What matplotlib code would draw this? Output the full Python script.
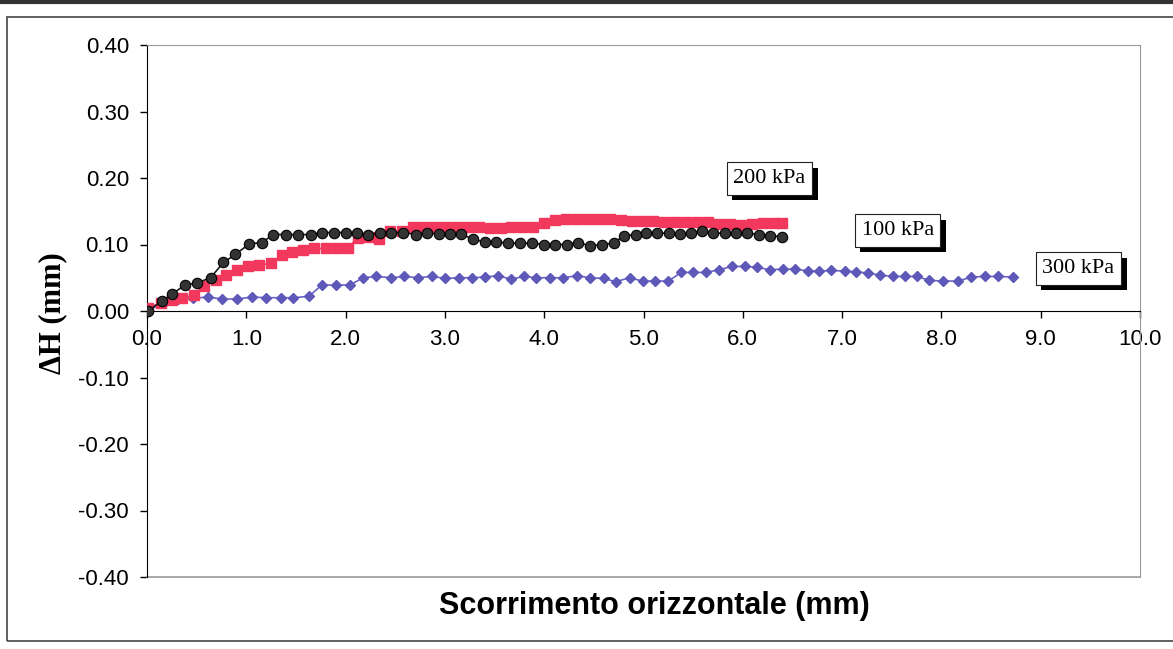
import matplotlib
matplotlib.use("Agg")
import matplotlib.pyplot as plt
import matplotlib.patheffects as pe
from matplotlib.lines import Line2D
from matplotlib.patches import Rectangle

# vertical displacement vs horizontal slip, three normal loads
x_100 = [0.01, 0.15, 0.25, 0.38, 0.50, 0.64, 0.77, 0.89, 1.03, 1.16, 1.27, 1.40, 1.52, 1.65,
         1.76, 1.88, 2.00, 2.11, 2.23, 2.35, 2.46, 2.58, 2.71, 2.82, 2.94, 3.05, 3.16, 3.28,
         3.40, 3.51, 3.64, 3.76, 3.88, 4.00, 4.11, 4.23, 4.34, 4.46, 4.58, 4.70, 4.80, 4.92,
         5.03, 5.14, 5.26, 5.37, 5.48, 5.59, 5.70, 5.82, 5.93, 6.04, 6.16, 6.27, 6.39]
dh_100 = [0.000, 0.015, 0.025, 0.039, 0.042, 0.050, 0.073, 0.085, 0.101, 0.103, 0.115, 0.115,
          0.115, 0.115, 0.118, 0.118, 0.118, 0.117, 0.114, 0.118, 0.118, 0.118, 0.115, 0.117,
          0.116, 0.116, 0.116, 0.108, 0.104, 0.104, 0.102, 0.102, 0.102, 0.100, 0.100, 0.100,
          0.103, 0.098, 0.100, 0.102, 0.113, 0.115, 0.117, 0.117, 0.117, 0.116, 0.117, 0.120,
          0.117, 0.117, 0.118, 0.117, 0.115, 0.113, 0.112]

x_200 = [0.01, 0.14, 0.25, 0.35, 0.47, 0.57, 0.69, 0.80, 0.91, 1.02, 1.13, 1.25, 1.36, 1.46,
         1.57, 1.68, 1.80, 1.91, 2.02, 2.12, 2.24, 2.34, 2.45, 2.57, 2.68, 2.79, 2.90, 3.01,
         3.12, 3.23, 3.34, 3.45, 3.56, 3.67, 3.78, 3.89, 4.00, 4.11, 4.22, 4.33, 4.44, 4.55,
         4.66, 4.77, 4.88, 4.99, 5.10, 5.21, 5.32, 5.43, 5.54, 5.65, 5.76, 5.87, 5.98, 6.09,
         6.20, 6.31, 6.39]
dh_200 = [0.005, 0.012, 0.017, 0.019, 0.024, 0.037, 0.047, 0.054, 0.062, 0.067, 0.069, 0.072,
          0.084, 0.089, 0.091, 0.094, 0.094, 0.094, 0.094, 0.110, 0.111, 0.109, 0.120, 0.120,
          0.127, 0.127, 0.127, 0.126, 0.126, 0.126, 0.126, 0.125, 0.125, 0.126, 0.126, 0.127,
          0.133, 0.137, 0.138, 0.138, 0.139, 0.139, 0.138, 0.137, 0.136, 0.135, 0.135, 0.134,
          0.134, 0.134, 0.134, 0.134, 0.131, 0.131, 0.130, 0.131, 0.133, 0.133, 0.133]

x_300 = [0.00, 0.17, 0.31, 0.46, 0.61, 0.76, 0.91, 1.06, 1.20, 1.35, 1.47, 1.63, 1.76, 1.90,
         2.04, 2.18, 2.31, 2.46, 2.59, 2.73, 2.87, 3.00, 3.14, 3.27, 3.40, 3.53, 3.67, 3.80,
         3.92, 4.06, 4.19, 4.33, 4.46, 4.60, 4.72, 4.86, 4.99, 5.12, 5.25, 5.38, 5.50, 5.63,
         5.76, 5.89, 6.02, 6.14, 6.27, 6.40, 6.53, 6.66, 6.77, 6.89, 7.03, 7.14, 7.26, 7.38,
         7.51, 7.63, 7.75, 7.88, 8.02, 8.17, 8.30, 8.44, 8.57, 8.72]
dh_300 = [0.000, 0.012, 0.018, 0.019, 0.021, 0.018, 0.018, 0.021, 0.020, 0.020, 0.020, 0.022,
          0.039, 0.039, 0.039, 0.050, 0.052, 0.050, 0.052, 0.050, 0.052, 0.049, 0.050, 0.050,
          0.051, 0.053, 0.048, 0.052, 0.050, 0.050, 0.050, 0.053, 0.050, 0.049, 0.044, 0.050,
          0.045, 0.045, 0.045, 0.058, 0.058, 0.058, 0.062, 0.067, 0.067, 0.066, 0.062, 0.063,
          0.063, 0.060, 0.060, 0.061, 0.060, 0.059, 0.057, 0.054, 0.052, 0.052, 0.052, 0.046,
          0.045, 0.045, 0.051, 0.052, 0.052, 0.051]

x_ticks = [0.0, 1.0, 2.0, 3.0, 4.0, 5.0, 6.0, 7.0, 8.0, 9.0, 10.0]
y_ticks = [-0.40, -0.30, -0.20, -0.10, 0.00, 0.10, 0.20, 0.30, 0.40]

# series tags: text, x, y
tags = [("200 kPa", 6.27, 0.199),
        ("100 kPa", 7.56, 0.121),
        ("300 kPa", 9.38, 0.064)]

plt.rcParams['font.family'] = ['Liberation Sans', 'DejaVu Sans']

fig = plt.figure(figsize=(11.73, 6.49), dpi=100)
fig.patch.set_facecolor('white')

# outer chart border
fig.add_artist(Rectangle((0.006, 0.012), 1.2, 0.962, transform=fig.transFigure,
                         fill=False, ec='#444444', lw=1.2))
fig.add_artist(Line2D([0, 1], [0.997, 0.997], transform=fig.transFigure, color='#333333', lw=3))

ax = fig.add_axes([147 / 1173, 1 - 577 / 649, (1140 - 147) / 1173, (577 - 45) / 649])

ax.plot(x_300, dh_300, color='#6a62c4', lw=1.2, marker='D', ms=5.5,
        mfc='#5e58b8', mec='#5e58b8', zorder=3)
ax.plot(x_200, dh_200, color='#f2405f', lw=1.2, marker='s', ms=7.5,
        mfc='#f2385c', mec='#f2385c', zorder=4)
ax.plot(x_100, dh_100, color='#1a1a1a', lw=1.2, marker='o', ms=7.5,
        mfc='#333333', mec='#000000', mew=0.8, zorder=5)

ax.set_xlim(0, 10)
ax.set_ylim(-0.4, 0.4)

ax.spines['bottom'].set_position(('data', 0))
ax.spines['bottom'].set_color('black')
ax.spines['left'].set_color('black')
for side in ['top', 'right']:
    ax.spines[side].set_color('#999999')
ax.axhline(-0.4, color='#999999', lw=1.2, clip_on=False)

ax.set_xticks(x_ticks)
ax.set_xticklabels(['%.1f' % v for v in x_ticks])
ax.set_yticks(y_ticks)
ax.set_yticklabels(['%.2f' % v for v in y_ticks])
ax.tick_params(axis='x', direction='out', length=5, width=1, pad=8, labelsize=16)
ax.tick_params(axis='y', direction='out', length=5, width=1, pad=8, labelsize=16)

for s, tx, ty in tags:
    t = ax.text(tx, ty, s, ha='center', va='center', fontsize=16, family='Liberation Serif',
                zorder=7, bbox=dict(boxstyle='square,pad=0.3', fc='white', ec='#222222', lw=0.8))
    # solid drop shadow to the lower right of the box
    t.get_bbox_patch().set_path_effects([
        pe.SimplePatchShadow(offset=(4, -4), shadow_rgbFace='black', alpha=1.0),
        pe.Normal()])

fig.text(0.045, 1 - 313 / 649, 'ΔH (mm)', rotation=90, ha='center', va='center',
         fontsize=22, fontweight='bold', family='Liberation Serif')
fig.text(0.558, 1 - 606 / 649, 'Scorrimento orizzontale (mm)', ha='center', va='center',
         fontsize=22, fontweight='bold')

fig.savefig('out.png', dpi=100)
